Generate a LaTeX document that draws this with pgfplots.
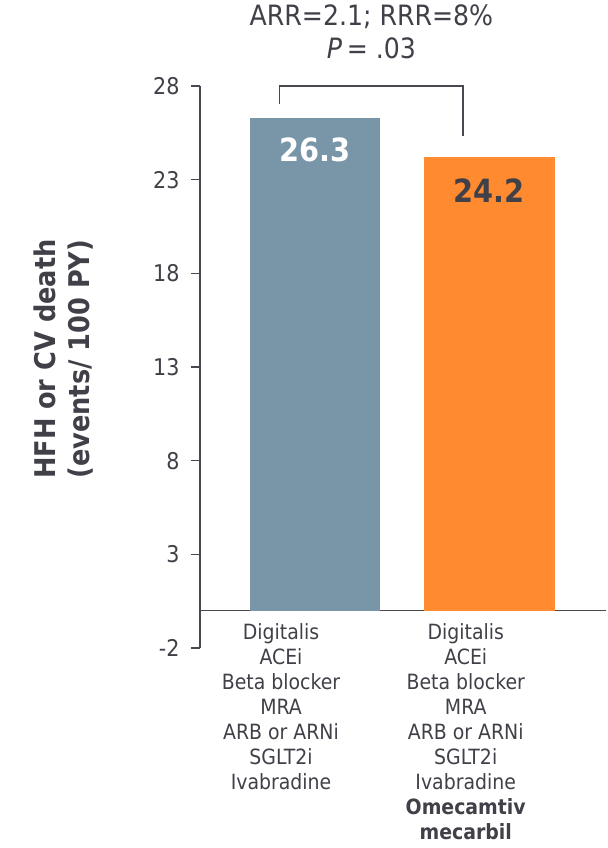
\documentclass[border=0pt]{standalone}
\usepackage{fontspec}
\setmainfont{DejaVu Sans Condensed}
\usepackage{pgfplots}
\pgfplotsset{compat=1.18}

\definecolor{ink}{RGB}{64,64,72}
\definecolor{axisgray}{RGB}{72,72,80}
\definecolor{slate}{RGB}{120,150,168}
\definecolor{tangerine}{RGB}{255,138,48}

\begin{document}
\begin{tikzpicture}
\begin{axis}[
  at={(0,0)}, anchor=south west,
  scale only axis, width=406bp, height=562bp,
  xmin=0.34, xmax=2.67, ymin=-2, ymax=28,
  clip=false,
  axis x line*=middle, axis y line*=left,
  axis line style={axisgray, line width=1.6bp},
  ytick={-2,3,8,13,18,23,28},
  yticklabels={-2,3,8,13,18,23,28},
  tick align=outside, major tick length=9bp,
  tick style={axisgray, line width=1.6bp},
  yticklabel style={font=\fontsize{23bp}{27bp}\selectfont, text=ink, xshift=-8bp},
  xtick={0.805,1.865},
  major x tick style={draw=none},
  xticklabels={
    {Digitalis\\ACEi\\Beta blocker\\MRA\\ARB or ARNi\\SGLT2i\\Ivabradine},
    {Digitalis\\ACEi\\Beta blocker\\MRA\\ARB or ARNi\\SGLT2i\\Ivabradine\\\textbf{Omecamtiv}\\\textbf{mecarbil}}},
  xticklabel style={align=center, font=\fontsize{21bp}{25bp}\selectfont, text=ink},
  ylabel={HFH or CV death\\(events/ 100 PY)},
  ylabel style={align=center, font=\bfseries\fontsize{28.5bp}{34bp}\selectfont, text=ink,
    at={(axis description cs:-0.336,0.514)}, anchor=center, rotate=0},
  /pgf/number format/assume math mode=true,
  /pgf/number format/fixed, /pgf/number format/precision=1,
]
% control arm
\addplot[ybar, bar width=0.75, fill=slate, draw=none,
  nodes near coords,
  nodes near coords style={anchor=center, yshift=-32bp, text=white,
    font=\bfseries\fontsize{32bp}{36bp}\selectfont}]
  coordinates {(1,26.3)};
% omecamtiv mecarbil arm
\addplot[ybar, bar width=0.75, fill=tangerine, draw=none,
  nodes near coords,
  nodes near coords style={anchor=center, yshift=-33bp, text=ink,
    font=\bfseries\fontsize{32bp}{36bp}\selectfont}]
  coordinates {(2,24.2)};
% comparison bracket and statistics
\draw[axisgray, line width=1.6bp]
  (axis cs:0.797,27.05) |- (axis cs:1.851,28) -- (axis cs:1.851,25.35);
\node[font=\fontsize{28bp}{32bp}\selectfont, text=ink]
  at (axis cs:1.324,28) [yshift=69bp] {ARR=2.1; RRR=8\%};
\node[font=\fontsize{28bp}{32bp}\selectfont, text=ink]
  at (axis cs:1.324,28) [yshift=38bp] {\textit{P}\,= .03};
\end{axis}
\pgfresetboundingbox
\useasboundingbox (-200bp,-200bp) rectangle (408bp,648bp);
\end{tikzpicture}
\end{document}
